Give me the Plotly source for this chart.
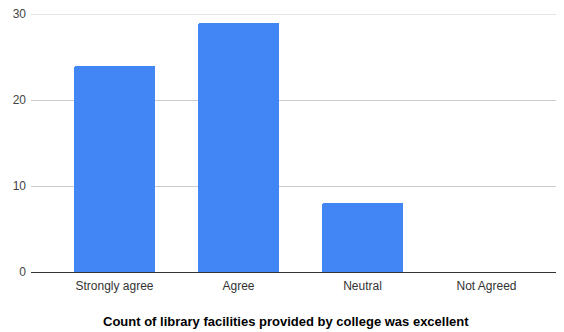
import plotly.graph_objects as go

categories = ["Strongly agree", "Agree", "Neutral", "Not Agreed"]
counts = [24, 29, 8, 0]
y_ticks = [0, 10, 20, 30]
x_title = "Count of library facilities provided by college was excellent"

fig = go.Figure(go.Bar(
    x=categories, y=counts,
    marker=dict(color="#4285F4", line=dict(width=0), cornerradius=2),
    width=0.653,
))

# page body has an 8px default margin, so the figure is sized to fit the window
fig.update_layout(
    width=556, height=324,
    margin=dict(l=23, r=1, t=6, b=60, autoexpand=False),
    paper_bgcolor="white", plot_bgcolor="white",
    font=dict(family="Liberation Sans, Arial, sans-serif", size=12, color="#444444"),
    showlegend=False,
    bargap=0,
    annotations=[dict(
        text="<b>" + x_title + "</b>",
        xref="paper", yref="paper", x=0.479, y=0, yshift=-49,
        xanchor="center", yanchor="middle", showarrow=False,
        font=dict(size=13, color="#000000"),
    )],
    # top gridline (plotly drops the gridline lying on the plot edge)
    shapes=[dict(
        type="line", xref="paper", yref="y", x0=0, x1=1,
        y0=y_ticks[-1], y1=y_ticks[-1],
        line=dict(color="#cccccc", width=1), layer="below",
    )],
)
fig.update_xaxes(
    type="category",
    range=[-0.673, 3.617],
    showgrid=False, showline=False, ticks="",
    automargin=False,
    tickfont=dict(size=12, color="#333333"),
    ticklabelstandoff=5,
)
fig.update_yaxes(
    range=[0, 30], tickvals=y_ticks,
    showgrid=True, gridcolor="#cccccc", gridwidth=1,
    zeroline=True, zerolinecolor="#333333", zerolinewidth=1,
    showline=False, ticks="",
    automargin=False,
    ticklabeloverflow="allow",
    tickfont=dict(size=12, color="#444444"),
    ticklabelstandoff=4,
)

fig.write_html("out.html")
